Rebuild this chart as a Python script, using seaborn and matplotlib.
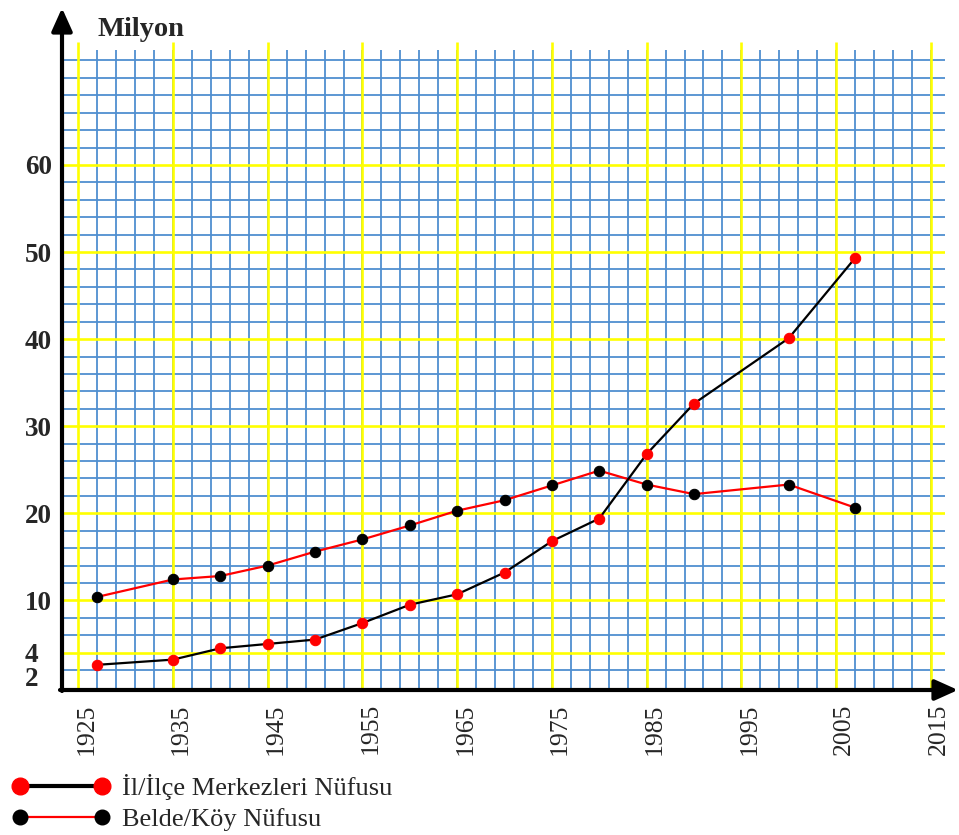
import matplotlib
matplotlib.use("Agg")
import matplotlib.pyplot as plt
import matplotlib.transforms as mtransforms
import numpy as np
import seaborn as sns
from matplotlib.lines import Line2D

# data (millions)
years = [1927, 1935, 1940, 1945, 1950, 1955, 1960, 1965, 1970, 1975, 1980, 1985, 1990, 2000, 2007]
urban = [2.6, 3.2, 4.5, 5.0, 5.5, 7.4, 9.5, 10.7, 13.2, 16.8, 19.4, 26.8, 32.6, 40.1, 49.3]
rural = [10.4, 12.4, 12.8, 14.0, 15.6, 17.0, 18.6, 20.3, 21.5, 23.2, 24.9, 23.3, 22.2, 23.3, 20.65]

x_ticks = [1925, 1935, 1945, 1955, 1965, 1975, 1985, 1995, 2005, 2015]
y_ticks = [2, 4, 10, 20, 30, 40, 50, 60]
label_urban = "İl/İlçe Merkezleri Nüfusu"
label_rural = "Belde/Köy Nüfusu"
unit_label = "Milyon"

sns.set_theme(style="white")
plt.rcParams["font.family"] = ["Liberation Serif", "DejaVu Serif"]

W, H = 959, 835
fig = plt.figure(figsize=(W / 100, H / 100), dpi=100)
ax = fig.add_axes([62 / W, (H - 690) / H, 883 / W, 632.2 / H])
ax.set_xlim(1923.28, 2016.5)
ax.set_ylim(-0.29, 72.3)

BLUE = "#4f8fd0"
YELLOW = "#ffff00"

# squared paper grid
minor_x = [v for v in np.arange(1927, 2016, 2)]
minor_y = [v for v in np.arange(2, 73, 2) if v not in (4, 10, 20, 30, 40, 50, 60)]
ax.vlines(minor_x, -0.29, 73.2, color=BLUE, lw=1.3, zorder=1, clip_on=False)
ax.hlines(minor_y, 1923.28, 2016.5, color=BLUE, lw=1.3, zorder=1)
ax.vlines(x_ticks, -0.29, 74.1, color=YELLOW, lw=1.9, zorder=2, clip_on=False)
ax.hlines([4, 10, 20, 30, 40, 50, 60], 1923.28, 2016.5, color=YELLOW, lw=1.9, zorder=2)

sns.lineplot(x=years, y=rural, ax=ax, color="red", lw=1.6, marker="o", markersize=7.5,
             markerfacecolor="black", markeredgecolor="black", zorder=4)
sns.lineplot(x=years, y=urban, ax=ax, color="black", lw=1.6, marker="o", markersize=7.5,
             markerfacecolor="red", markeredgecolor="red", zorder=5)

for s in ax.spines.values():
    s.set_visible(False)

ax.set_xticks(x_ticks)
ax.set_xticklabels([str(v) for v in x_ticks], rotation=90, fontsize=18.5)
ax.set_yticks(y_ticks)
ax.set_yticklabels([str(v) for v in y_ticks], fontsize=19.5, fontweight="bold", ha="left")
ax.tick_params(axis="x", length=0, pad=9.5)
ax.tick_params(axis="y", length=0, pad=26.6)
shift = mtransforms.ScaledTranslation(8 / 100, 0, fig.dpi_scale_trans)
for lab in ax.get_xticklabels():
    lab.set_transform(lab.get_transform() + shift)
# the "2" sits a little below its line in the reference
down = mtransforms.ScaledTranslation(0, -6 / 100, fig.dpi_scale_trans)
ylabs = ax.get_yticklabels()
ylabs[0].set_transform(ylabs[0].get_transform() + down)
ax.set_xlabel("")
ax.set_ylabel("")

# axis arrows
arrow = dict(arrowstyle="-|>,head_length=1.0,head_width=0.45", lw=3, color="black",
             mutation_scale=14, shrinkA=0, shrinkB=0)
ax.annotate("", xy=(62 / W, 1 - 8 / H), xytext=(62 / W, 1 - 691 / H),
            xycoords="figure fraction", arrowprops=arrow)
ax.annotate("", xy=(958 / W, 1 - 690 / H), xytext=(60 / W, 1 - 690 / H),
            xycoords="figure fraction", arrowprops=arrow)

fig.text(97 / W, 1 - 29 / H, unit_label, fontsize=20.5, fontweight="bold", ha="left", va="center")

handles = [
    Line2D([], [], color="black", lw=3, marker="o", markersize=12,
           markerfacecolor="red", markeredgecolor="red"),
    Line2D([], [], color="red", lw=1.6, marker="o", markersize=10.5,
           markerfacecolor="black", markeredgecolor="black"),
]
fig.legend(handles, [label_urban, label_rural], loc="upper left", bbox_to_anchor=(12 / W, 1 - 774 / H),
           frameon=False, fontsize=19, numpoints=2, handlelength=3.7, handletextpad=0.45,
           labelspacing=0.3, borderpad=0, borderaxespad=0)

fig.savefig("out.png", dpi=100)
